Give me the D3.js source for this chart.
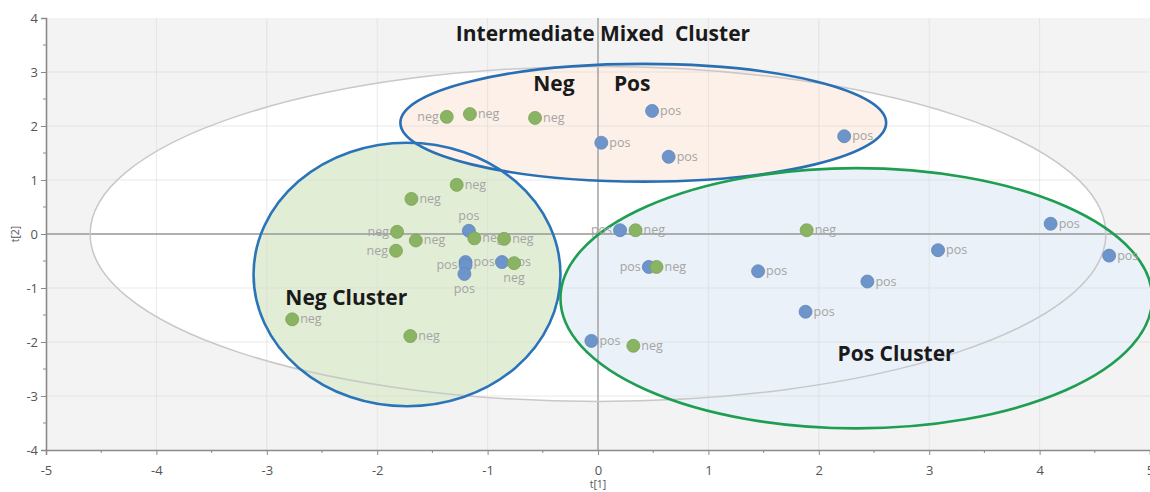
<!DOCTYPE html>
<html>
<head>
<meta charset="utf-8">
<script src="https://cdn.jsdelivr.net/npm/d3@7"></script>
<style>
  html, body { margin: 0; padding: 0; background: #ffffff; }
  svg { display: block; }
</style>
</head>
<body>
<svg id="chart" width="1150" height="492"></svg>
<script>
// ---- data ----
const xTicks = [-5, -4, -3, -2, -1, 0, 1, 2, 3, 4, 5];
const yTicks = [-4, -3, -2, -1, 0, 1, 2, 3, 4];
const xAxisTitle = "t[1]";
const yAxisTitle = "t[2]";

const negT1 = [-1.37, -1.16, -0.57, -1.28, -1.69, -1.82, -1.65, -1.83, -1.12, -0.85, -0.76, -2.77, -1.70, 0.34, 0.53, 1.89, 0.32];
const negT2 = [2.17, 2.22, 2.15, 0.91, 0.65, 0.04, -0.12, -0.31, -0.08, -0.09, -0.54, -1.58, -1.89, 0.07, -0.61, 0.07, -2.07];
const negSide = ["left", "right", "right", "right", "right", "left", "right", "left", "right", "right", "below", "right", "right", "right", "right", "right", "right"];

const posT1 = [-1.17, -1.20, -1.20, -1.21, -0.87, 0.49, 0.03, 0.64, 2.23, 0.20, 0.46, 1.45, 1.88, 4.10, 3.08, 4.63, 2.44, -0.06];
const posT2 = [0.06, -0.52, -0.58, -0.74, -0.52, 2.28, 1.69, 1.43, 1.81, 0.07, -0.61, -0.69, -1.44, 0.19, -0.30, -0.40, -0.88, -1.98];
const posSide = ["above", "right", "left", "below", "right", "right", "right", "right", "right", "left", "left", "right", "right", "right", "right", "right", "right", "right"];

// ellipses in data units: [cx, cy, rx, ry]
const hotellingEllipse = [0.0, 0.0, 4.6, 3.1];
const negClusterEllipse = [-1.73, -0.75, 1.39, 2.44];
const mixedClusterEllipse = [0.41, 2.06, 2.2, 1.09];
const posClusterEllipse = [2.34, -1.19, 2.68, 2.41];

const titles = [
  { text: "Intermediate Mixed  Cluster", t1: 0.045, t2: 3.57 },
  { text: "Neg", t1: -0.4, t2: 2.64 },
  { text: "Pos", t1: 0.31, t2: 2.64 },
  { text: "Neg Cluster", t1: -2.28, t2: -1.32 },
  { text: "Pos Cluster", t1: 2.70, t2: -2.36 }
];

// ---- layout ----
const svg = d3.select("#chart");
const pLeft = 46, pRight = 1150, pTop = 18, pBottom = 450;
const x = d3.scaleLinear().domain([-5, 5]).range([pLeft, pRight]);
const y = d3.scaleLinear().domain([-4, 4]).range([pBottom, pTop]);

const defs = svg.append("defs");
defs.append("clipPath").attr("id", "plotclip")
  .append("rect").attr("x", pLeft).attr("y", pTop).attr("width", pRight - pLeft).attr("height", pBottom - pTop);

const plot = svg.append("g").attr("clip-path", "url(#plotclip)");

plot.append("rect").attr("x", pLeft).attr("y", pTop).attr("width", pRight - pLeft).attr("height", pBottom - pTop)
  .attr("fill", "#f3f3f3");

function ell(g, e, fill, stroke, sw) {
  return g.append("ellipse")
    .attr("cx", x(e[0])).attr("cy", y(e[1]))
    .attr("rx", x(e[0] + e[2]) - x(e[0]))
    .attr("ry", y(e[1]) - y(e[1] + e[3]))
    .attr("fill", fill).attr("stroke", stroke).attr("stroke-width", sw);
}

// fills
ell(plot, hotellingEllipse, "#ffffff", "none", 0);
ell(plot, negClusterEllipse, "#e2edd6", "none", 0);
ell(plot, mixedClusterEllipse, "#fcf0e8", "none", 0);
ell(plot, posClusterEllipse, "#eaf1f8", "none", 0);

// grid
const gridX = xTicks.filter(v => v > -5 && v < 5);
const gridY = yTicks.filter(v => v > -4 && v < 4);
plot.append("g").selectAll("line").data(gridX).join("line")
  .attr("x1", d => x(d)).attr("x2", d => x(d)).attr("y1", pTop).attr("y2", pBottom)
  .attr("stroke", "#d8d8d8").attr("stroke-opacity", 0.55).attr("stroke-width", 1);
plot.append("g").selectAll("line").data(gridY).join("line")
  .attr("y1", d => y(d)).attr("y2", d => y(d)).attr("x1", pLeft).attr("x2", pRight)
  .attr("stroke", "#d8d8d8").attr("stroke-opacity", 0.55).attr("stroke-width", 1);

// zero lines
plot.append("line").attr("x1", x(0)).attr("x2", x(0)).attr("y1", pTop).attr("y2", pBottom)
  .attr("stroke", "#9a9a9a").attr("stroke-width", 1.3);
plot.append("line").attr("y1", y(0)).attr("y2", y(0)).attr("x1", pLeft).attr("x2", pRight)
  .attr("stroke", "#9a9a9a").attr("stroke-width", 1.3);

// ellipse outlines
ell(plot, hotellingEllipse, "none", "#c8c8c8", 1.5);
ell(plot, mixedClusterEllipse, "none", "#2a6fb3", 2.6);
ell(plot, negClusterEllipse, "none", "#2a74ba", 2.6);
ell(plot, posClusterEllipse, "none", "#1f9e52", 2.6);

// points
const negPts = negT1.map((v, i) => ({ t1: v, t2: negT2[i], side: negSide[i], lab: "neg" }));
const posPts = posT1.map((v, i) => ({ t1: v, t2: posT2[i], side: posSide[i], lab: "pos" }));
const allPts = posPts.concat(negPts);

function labelPos(d) {
  const px = x(d.t1), py = y(d.t2);
  if (d.side === "right") return [px + 8, py + 4, "start"];
  if (d.side === "left") return [px - 8, py + 4, "end"];
  if (d.side === "above") return [px, py - 11, "middle"];
  return [px, py + 19, "middle"];
}

plot.append("g").selectAll("text").data(allPts).join("text")
  .attr("x", d => labelPos(d)[0]).attr("y", d => labelPos(d)[1])
  .attr("text-anchor", d => labelPos(d)[2])
  .attr("font-family", "'Open Sans', sans-serif").attr("font-size", 12.5)
  .attr("fill", "#a4a4a4")
  .text(d => d.lab);

plot.append("g").selectAll("circle").data(posPts).join("circle")
  .attr("cx", d => x(d.t1)).attr("cy", d => y(d.t2)).attr("r", 6.5)
  .attr("fill", "#6e95c9").attr("stroke", "#5f86ba").attr("stroke-width", 0.8);
plot.append("g").selectAll("circle").data(negPts).join("circle")
  .attr("cx", d => x(d.t1)).attr("cy", d => y(d.t2)).attr("r", 6.5)
  .attr("fill", "#8ab363").attr("stroke", "#7aa355").attr("stroke-width", 0.8);

// titles
svg.append("g").selectAll("text").data(titles).join("text")
  .attr("x", d => x(d.t1)).attr("y", d => y(d.t2))
  .attr("text-anchor", "middle")
  .style("white-space", "pre")
  .attr("font-family", "'Open Sans', sans-serif").attr("font-weight", "bold")
  .attr("font-size", 21).attr("fill", "#1a1a1a")
  .text(d => d.text);

// axes
const fmt = d => String(d);
const xAxis = svg.append("g").attr("transform", `translate(0,${pBottom})`)
  .call(d3.axisBottom(x).tickValues(xTicks).tickSize(5).tickFormat(fmt));
const yAxis = svg.append("g").attr("transform", `translate(${pLeft},0)`)
  .call(d3.axisLeft(y).tickValues(yTicks).tickSize(5).tickFormat(fmt));
[xAxis, yAxis].forEach(a => {
  a.select(".domain").attr("stroke", "#8a8a8a").attr("stroke-width", 1.6);
  a.selectAll(".tick line").attr("stroke", "#8a8a8a");
  a.selectAll(".tick text").attr("fill", "#555").attr("font-size", 13)
    .attr("font-family", "'Open Sans', sans-serif");
});
xAxis.selectAll(".tick text").attr("dy", "1.3em");

// minor ticks
const minorX = xTicks.slice(0, -1).map(v => v + 0.5);
const minorY = yTicks.slice(0, -1).map(v => v + 0.5);
svg.append("g").selectAll("line").data(minorX).join("line")
  .attr("x1", d => x(d)).attr("x2", d => x(d)).attr("y1", pBottom).attr("y2", pBottom + 3)
  .attr("stroke", "#8a8a8a");
svg.append("g").selectAll("line").data(minorY).join("line")
  .attr("y1", d => y(d)).attr("y2", d => y(d)).attr("x1", pLeft - 3).attr("x2", pLeft)
  .attr("stroke", "#8a8a8a");

// axis titles
svg.append("text").attr("x", x(0)).attr("y", 488).attr("text-anchor", "middle")
  .attr("font-family", "'Open Sans', sans-serif").attr("font-size", 10.5).attr("fill", "#555")
  .text(xAxisTitle);
svg.append("text").attr("transform", `translate(19,${y(0)}) rotate(-90)`).attr("text-anchor", "middle")
  .attr("font-family", "'Open Sans', sans-serif").attr("font-size", 10.5).attr("fill", "#555")
  .text(yAxisTitle);
</script>
</body>
</html>
